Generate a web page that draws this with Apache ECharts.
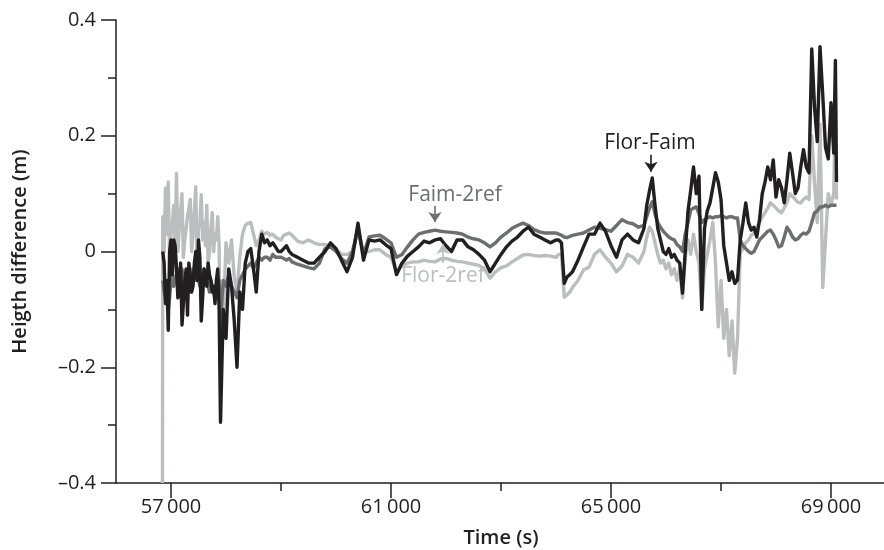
<!DOCTYPE html>
<html><head><meta charset="utf-8">
<script src="https://cdn.jsdelivr.net/npm/echarts@6/dist/echarts.min.js"></script>
<style>html,body{margin:0;padding:0;background:#fff}#c{width:884px;height:550px}</style>
</head><body><div id="c"></div>
<script>
// Time (s) sample positions shared by the three series
const times = [
56845,56850,56875,56900,56925,56950,56975,57000,57025,57050,57075,57100,57125,57150,57175,57200,57225,57250,57275,57300,57325,57350,57375,57400,57425,57450,57475,57500,57525,57550,57575,57600,57625,57650,57675,57700,57725,57750,57775,57800,57825,57850,57875,57900,
57950,58000,58050,58100,58150,58200,58250,58300,58350,58400,58450,58500,58550,58600,58650,58700,58750,58800,58850,58900,58950,59000,59050,59100,59150,59200,
59300,59400,59500,59600,59700,59800,59900,60000,60100,60200,60300,60400,60500,60600,60700,60800,60900,61000,61100,61200,61300,61400,61500,61600,61700,61800,61900,62000,62100,62200,62300,62400,62500,62600,62700,62800,62900,63000,63100,63200,63300,63400,63500,63600,63700,63800,63900,64000,
64050,64100,64150,64200,64250,64300,64400,64500,64600,64700,64800,64900,65000,65100,65200,65300,65400,65500,65600,
65650,65700,65750,65800,65850,65900,65950,66000,66050,66100,66150,66200,66250,66300,66350,66400,66450,66500,66550,66600,66650,66700,66750,66800,66850,66900,66950,67000,67050,67100,67150,67200,67250,67300,67350,67400,67450,67500,67550,67600,67650,67700,67750,67800,67850,67900,67950,68000,68050,68100,68150,68200,68250,68300,68350,68400,68450,68500,68550,68600,68650,68700,68750,68800,68850,68900,68950,69000,69050,69080,69100
];

// Flor-Faim (black)
const florFaim = [
null,
0.0,-0.02,-0.09,-0.05,-0.136,0.0,0.02,-0.04,0.02,0.01,-0.03,-0.08,-0.06,-0.02,-0.127,-0.09,-0.05,-0.03,-0.11,-0.02,-0.04,-0.07,-0.06,-0.02,0.0,-0.05,0.02,-0.01,-0.12,-0.08,-0.03,-0.05,-0.06,-0.02,-0.04,-0.05,-0.07,-0.06,-0.09,-0.05,-0.03,-0.10,-0.295,
-0.10,-0.15,-0.03,-0.06,-0.12,-0.20,-0.07,-0.10,-0.02,0.0,0.005,-0.03,-0.07,0.0,0.03,0.015,0.02,0.01,0.015,0.008,0.0,0.0,0.005,0.01,0.0,-0.005,
-0.01,-0.015,-0.02,-0.02,-0.01,0.0,0.015,0.005,-0.015,-0.035,
-0.01,0.049,-0.015,0.02,0.018,0.02,0.012,0.005,-0.04,-0.02,
-0.008,0.0,0.008,0.018,0.015,0.02,0.022,0.01,0.0,0.02,
0.02,0.008,0.003,-0.005,-0.015,-0.035,-0.02,-0.005,0.008,0.018,
0.025,0.035,0.042,0.03,0.025,0.02,0.015,0.02,
0.02,0.015,-0.055,-0.044,-0.04,-0.035,-0.015,0.008,0.03,0.03,0.049,0.035,0.01,-0.01,0.02,0.03,0.02,0.015,0.04,
0.08,0.105,0.127,0.08,0.04,0.02,0.0,-0.005,0.005,-0.01,
-0.005,-0.015,-0.02,-0.072,0.0,0.07,0.106,0.146,0.10,0.13,
-0.10,0.04,0.07,0.084,0.11,0.136,0.12,0.09,0.01,-0.02,
-0.05,-0.035,-0.055,-0.049,0.02,0.05,0.084,0.05,0.037,0.042,
0.025,0.055,0.1,0.12,0.146,0.124,0.158,0.094,0.124,0.11,
0.084,0.124,0.17,0.136,0.1,0.11,0.146,0.176,0.146,0.136,
0.35,0.25,0.19,0.354,0.27,0.18,0.16,0.257,0.17,0.33,0.12
];

// Faim-2ref (dark grey)
const faim2ref = [
null,
-0.05,-0.07,-0.08,-0.06,-0.10,-0.08,-0.05,-0.04,-0.06,-0.05,-0.04,-0.03,-0.07,-0.06,-0.03,-0.05,-0.06,-0.07,-0.04,-0.04,-0.07,-0.06,-0.03,-0.05,-0.05,-0.04,-0.04,-0.06,-0.06,-0.05,-0.03,-0.04,-0.05,-0.06,-0.07,-0.05,-0.05,-0.07,-0.08,-0.06,-0.06,-0.05,-0.12,
-0.05,-0.06,-0.04,-0.06,-0.07,-0.08,-0.05,-0.04,-0.03,-0.025,-0.02,-0.03,-0.02,-0.01,-0.015,-0.01,-0.01,-0.015,-0.005,-0.01,-0.01,-0.01,-0.012,-0.015,-0.012,-0.018,
-0.022,-0.025,-0.028,-0.03,-0.02,0.005,0.008,0.0,-0.012,-0.02,
0.0,0.04,-0.005,0.025,0.027,0.028,0.022,0.015,-0.01,-0.005,
0.008,0.02,0.03,0.033,0.035,0.037,0.035,0.034,0.033,0.032,
0.03,0.025,0.022,0.02,0.015,0.008,0.015,0.025,0.032,0.04,
0.045,0.049,0.045,0.038,0.034,0.032,0.032,0.032,
0.03,0.028,0.025,0.024,0.026,0.028,0.03,0.032,0.037,0.042,0.04,0.038,0.035,0.045,0.055,0.05,0.048,0.042,0.045,
0.06,0.075,0.086,0.065,0.05,0.042,0.035,0.03,0.025,0.022,
0.02,0.012,0.008,0.0,0.03,0.05,0.072,0.075,0.077,0.065,
0.05,0.055,0.058,0.06,0.058,0.06,0.06,0.062,0.06,0.058,
0.06,0.06,0.058,0.058,0.02,0.01,0.005,0.0,-0.003,0.0,
0.01,0.02,0.025,0.03,0.035,0.037,0.03,0.02,0.008,0.01,
0.025,0.042,0.035,0.025,0.02,0.022,0.028,0.032,0.03,0.035,
0.05,0.067,0.07,0.077,0.077,0.08,0.077,0.08,0.08,0.077,0.08
];

// Flor-2ref (light grey)
const flor2ref = [
-0.40,
0.06,0.0,0.11,0.03,0.12,-0.02,0.03,0.05,0.08,0.01,0.135,0.0,0.04,0.04,0.10,-0.01,0.02,0.02,0.06,0.06,0.09,0.0,0.03,0.03,0.112,-0.03,0.04,0.05,0.098,0.02,0.05,0.01,0.08,-0.02,0.0,0.04,0.067,0.0,0.03,0.02,0.06,0.01,-0.20,
-0.12,0.015,-0.02,0.02,-0.045,-0.07,-0.01,0.03,0.045,0.049,0.05,0.03,0.01,0.02,0.035,0.03,0.033,0.028,0.03,0.025,0.022,0.02,0.028,0.03,0.032,0.028,
0.018,0.015,0.02,0.015,0.012,0.012,0.01,0.005,-0.005,-0.005,
0.0,0.032,0.0,0.0,0.003,0.003,-0.005,-0.01,-0.035,-0.025,
-0.02,-0.018,-0.018,-0.015,-0.017,-0.018,-0.013,-0.012,-0.015,-0.017,
-0.018,-0.02,-0.022,-0.024,-0.03,-0.046,-0.035,-0.028,-0.025,-0.018,
-0.012,-0.006,-0.005,-0.007,-0.008,-0.007,-0.008,-0.01,
-0.005,-0.005,-0.079,-0.075,-0.07,-0.062,-0.05,-0.032,-0.027,-0.005,0.003,-0.01,-0.02,-0.035,-0.025,-0.005,-0.01,-0.02,0.0,
0.025,0.042,0.035,0.015,-0.005,-0.02,-0.015,-0.03,-0.02,-0.04,
-0.03,-0.05,-0.03,-0.08,-0.01,0.02,-0.005,0.03,0.0,-0.02,
-0.10,-0.03,-0.005,0.02,0.05,-0.02,-0.13,-0.05,-0.15,-0.10,
-0.18,-0.12,-0.21,-0.15,-0.003,0.005,0.015,0.02,0.028,0.032,
0.04,0.05,0.06,0.067,0.075,0.084,0.08,0.075,0.07,0.067,
0.075,0.085,0.1,0.095,0.09,0.085,0.084,0.09,0.094,0.09,
0.2,0.12,0.05,0.22,-0.062,0.02,0.1,0.08,0.1,0.27,0.09
];

const xLabelTicks = [57000, 61000, 65000, 69000];
const xMinorTicks = [59000, 63000, 67000];

const INK = '#231f20', DARK = '#6d6e70', LIGHT = '#bbbdbf';
const FONT = 'Open Sans';

function pairs(vals){ return times.map((t,i)=>[t, vals[i]]); }

function arrow(color, from, to){
  return {silent:true, symbol:['none','arrow'], symbolSize:[10,10], precision:6,
    lineStyle:{color, width:1.6, type:'solid'}, label:{show:false}, emphasis:{disabled:true},
    data:[[{coord:from},{coord:to}]]};
}
function note(color, text, at){
  return {silent:true, symbol:'circle', symbolSize:1, itemStyle:{color:'rgba(0,0,0,0)'},
    label:{show:true, position:'inside', formatter:text, color, fontSize:21, fontFamily:FONT},
    data:[{coord:at}]};
}
function line(name, vals, color, z, extra){
  return Object.assign({name, type:'line', data:pairs(vals), showSymbol:false, symbol:'none',
    lineStyle:{color, width:3.4, join:'round'}, itemStyle:{color}, z, animation:false}, extra||{});
}

const chart = echarts.init(document.getElementById('c'), null, {renderer:'canvas'});
chart.setOption({
  animation:false,
  grid:{left:116, right:-2, top:20, bottom:67, containLabel:false, outerBoundsMode:'none'},
  xAxis:[{
    type:'value', min:56000, max:70000, position:'bottom',
    axisLine:{onZero:false, lineStyle:{color:INK, width:1.5}},
    axisTick:{customValues:xLabelTicks, length:15, lineStyle:{color:INK, width:1.5}},
    axisLabel:{customValues:xLabelTicks, color:INK, fontSize:20, fontFamily:FONT, margin:14,
      formatter:v=>{const s=String(v); return s.slice(0,s.length-3)+'\u2009'+s.slice(-3);}},
    splitLine:{show:false},
    name:'Time (s)', nameLocation:'middle', nameGap:45,
    nameTextStyle:{color:INK, fontSize:20, fontWeight:600, fontFamily:FONT}
  },{
    type:'value', min:56000, max:70000, position:'bottom', gridIndex:0,
    axisLine:{show:false, onZero:false},
    axisTick:{customValues:xMinorTicks, length:8, lineStyle:{color:INK, width:1.5}},
    axisLabel:{show:false}, splitLine:{show:false}
  }],
  yAxis:{
    type:'value', min:-0.4, max:0.4, interval:0.2,
    axisLine:{show:true, onZero:false, lineStyle:{color:INK, width:1.5}},
    axisTick:{show:true, length:15, lineStyle:{color:INK, width:1.5}},
    minorTick:{show:true, splitNumber:2, length:8, lineStyle:{color:INK, width:1.5}},
    axisLabel:{color:INK, fontSize:20, fontFamily:FONT, margin:20,
      formatter:v=>{ if (Math.abs(v)<1e-9) return '0'; return (v<0?'\u2013':'')+Math.abs(v).toFixed(1); }},
    splitLine:{show:false}, minorSplitLine:{show:false},
    name:'Heigth difference (m)', nameLocation:'middle', nameGap:86,
    nameTextStyle:{color:INK, fontSize:20, fontWeight:600, fontFamily:FONT}
  },
  series:[
    line('Flor-2ref', flor2ref, LIGHT, 2, {
      markLine: arrow(LIGHT, [61945,-0.020], [61945,0.013]),
      markPoint: note(LIGHT, 'Flor-2ref', [61945,-0.043])
    }),
    line('Faim-2ref', faim2ref, DARK, 3, {
      markLine: arrow(DARK, [61800,0.079], [61800,0.051]),
      markPoint: note(DARK, 'Faim-2ref', [62164,0.098])
    }),
    line('Flor-Faim', florFaim, INK, 4, {
      markLine: arrow(INK, [65727,0.167], [65727,0.138]),
      markPoint: note(INK, 'Flor-Faim', [65709,0.188])
    })
  ]
});
</script></body></html>
